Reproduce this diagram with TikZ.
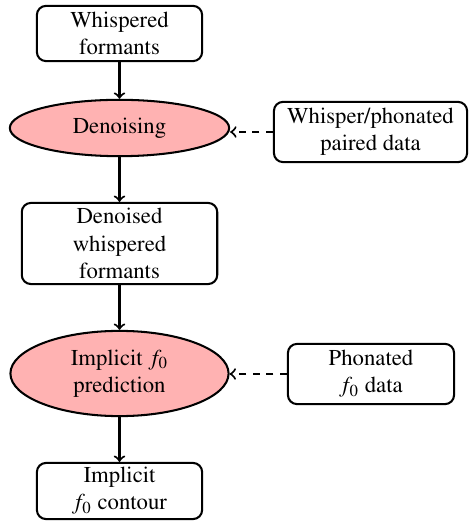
\documentclass[tikz,border=0pt]{standalone}
\usepackage[T1]{fontenc}
\usepackage{mathptmx}
\usetikzlibrary{shapes.geometric,calc}
\newcommand{\fz}{$f_0$}
\begin{document}
\begin{tikzpicture}[x=0.44pt,y=-0.44pt,
  box/.style={draw,line width=0.9pt,rounded corners=4pt,inner sep=0pt,align=center,fill=white},
  proc/.style={draw,line width=0.9pt,ellipse,inner sep=0pt,align=center,fill=red!30},
  flow/.style={line width=0.9pt,->},
  feed/.style={line width=0.9pt,->,dashed}]
\useasboundingbox (0,0) rectangle (468,521);
\node[box,minimum width=72.7pt,minimum height=24.3pt] (w1) at (119.5,33.5) {Whispered\\formants};
\node[proc,minimum width=96.5pt,minimum height=24.8pt] (den) at (119.5,128) {Denoising};
\node[box,minimum width=85pt,minimum height=26.5pt] (pd) at (370.5,132) {Whisper/phonated\\paired data};
\node[box,minimum width=86pt,minimum height=35.7pt] (dw) at (119.5,243.5) {Denoised\\whispered\\formants};
\node[proc,minimum width=96pt,minimum height=37.5pt] (ip) at (119.5,373.5) {Implicit \fz\\prediction};
\node[box,minimum width=73.1pt,minimum height=26.5pt] (pf) at (371,374) {Phonated\\\fz{} data};
\node[box,minimum width=72.7pt,minimum height=24.7pt] (ic) at (119.5,491) {Implicit\\\fz{} contour};
\draw[flow] (w1) -- (den);
\draw[flow] (den) -- (dw);
\draw[flow] (dw) -- (ip);
\draw[flow] (ip) -- (ic);
\draw[feed] (pd.west) -- (pd.west -| den.east);
\draw[feed] (pf.west) -- (pf.west -| ip.east);
\end{tikzpicture}
\end{document}
